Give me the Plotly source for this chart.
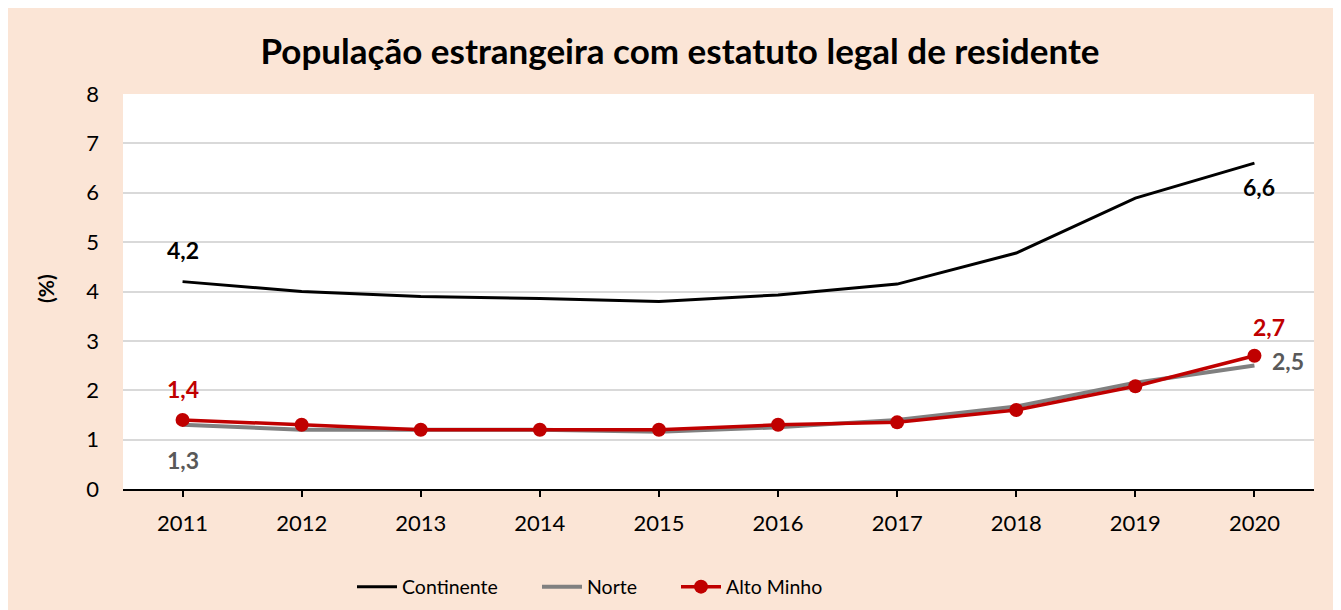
import plotly.graph_objects as go

years = ["2011", "2012", "2013", "2014", "2015", "2016", "2017", "2018", "2019", "2020"]
continente = [4.2, 4.0, 3.9, 3.86, 3.8, 3.93, 4.15, 4.78, 5.89, 6.6]
norte = [1.3, 1.2, 1.2, 1.2, 1.16, 1.25, 1.4, 1.67, 2.15, 2.5]
alto_minho = [1.4, 1.3, 1.2, 1.2, 1.2, 1.3, 1.35, 1.6, 2.08, 2.7]
y_ticks = [0, 1, 2, 3, 4, 5, 6, 7, 8]

FONT = "Lato"
OFF = 8  # page body margin
W, H = 1341 - OFF, 610 - OFF
# target pixel positions in the screenshot
PL, PR, PT, PB = 123, 1314, 94, 489
L, R, T, B = PL - OFF, (1341 - PR), PT - OFF, (610 - PB)
pw, ph = W - L - R, H - T - B

def px_x(p):
    return (p - OFF - L) / pw

def px_y(p):
    return (H - B - (p - OFF)) / ph

fig = go.Figure()
fig.add_trace(go.Scatter(x=years, y=continente, name="Continente", mode="lines",
                         line=dict(color="#000000", width=3), legend="legend"))
fig.add_trace(go.Scatter(x=years, y=norte, name="Norte", mode="lines",
                         line=dict(color="#808080", width=4), legend="legend2"))
fig.add_trace(go.Scatter(x=years, y=alto_minho, name="Alto Minho", mode="lines+markers",
                         line=dict(color="#C00000", width=3.5),
                         marker=dict(color="#C00000", size=14), legend="legend3"))

def fmt(v):
    return f"{v:.1f}".replace(".", ",")

n = len(years) - 1
labels = [
    (0, continente[0], "#000000", 0, 32),
    (n, continente[n], "#000000", 5, -24),
    (0, alto_minho[0], "#C00000", 0, 31),
    (0, norte[0], "#595959", 0, -35),
    (n, alto_minho[n], "#C00000", 15, 29),
    (n, norte[n], "#595959", 34, 5),
]
for x, y, c, xs, ys in labels:
    fig.add_annotation(x=x, y=y, xref="x", yref="y", text=f"<b>{fmt(y)}</b>", showarrow=False,
                       xshift=xs, yshift=ys,
                       font=dict(family=FONT, size=23, color=c))

# y axis title
fig.add_annotation(x=px_x(45), y=px_y(289), xref="paper", yref="paper",
                   text="<b>(%)</b>", textangle=-90, showarrow=False,
                   xanchor="center", yanchor="middle",
                   font=dict(family=FONT, size=21, color="#000000"))

# outer frame (white outside, light grey border)
fig.add_shape(type="rect", xref="paper", yref="paper",
              x0=px_x(-20), x1=px_x(7), y0=px_y(700), y1=px_y(-20),
              fillcolor="white", line=dict(width=0), layer="below")
fig.add_shape(type="rect", xref="paper", yref="paper",
              x0=px_x(-20), x1=px_x(1400), y0=px_y(7), y1=px_y(-20),
              fillcolor="white", line=dict(width=0), layer="below")
fig.add_shape(type="rect", xref="paper", yref="paper",
              x0=px_x(7), x1=px_x(1400), y0=px_y(700), y1=px_y(7),
              fillcolor="rgba(0,0,0,0)", line=dict(color="#D0D0D0", width=1.5), layer="below")

leg_common = dict(orientation="h", xanchor="left", yanchor="middle", y=px_y(587),
                  font=dict(family=FONT, size=19.5), bgcolor="rgba(0,0,0,0)",
                  itemwidth=40, borderwidth=0)

fig.update_layout(
    width=W, height=H,
    margin=dict(l=L, r=R, t=T, b=B, autoexpand=False),
    paper_bgcolor="#FBE5D6",
    plot_bgcolor="#FFFFFF",
    separators=", ",
    font=dict(family=FONT, size=22, color="#000000"),
    title=dict(text="<b>População estrangeira com estatuto legal de residente</b>",
               x=(680 - OFF) / W, xanchor="center", xref="container",
               y=1 - (52 - OFF) / H, yanchor="middle",
               font=dict(family=FONT, size=35, color="#000000")),
    showlegend=True,
    legend=dict(x=px_x(352), **leg_common),
    legend2=dict(x=px_x(537), **leg_common),
    legend3=dict(x=px_x(676), **leg_common),
    xaxis=dict(type="category", range=[-0.5, len(years) - 0.5],
               showgrid=False, showline=True, linecolor="#000000", linewidth=1.5,
               ticks="outside", ticklen=6, tickcolor="#000000", tickwidth=1.5,
               ticklabelstandoff=8,
               tickfont=dict(size=22), zeroline=False),
    yaxis=dict(range=[0, 8], tickvals=y_ticks, showgrid=True, gridcolor="#D9D9D9", gridwidth=1.5,
               showline=False, zeroline=False, ticks="", ticklabelstandoff=23,
               tickfont=dict(size=22)),
)

fig.write_html("out.html")
